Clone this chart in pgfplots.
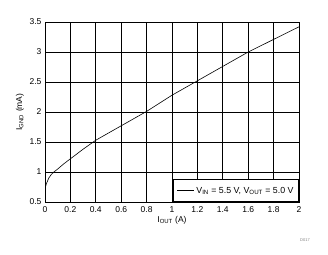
\documentclass[border=0pt]{standalone}
\usepackage{pgfplots}
\pgfplotsset{compat=1.18}
\usepackage{fontspec}
\setmainfont{Liberation Sans}
\begin{document}
\begin{tikzpicture}[x=1pt,y=1pt]
\path[use as bounding box] (-45,-52) rectangle (283,202);
\begin{axis}[
  at={(0,0)}, anchor=south west,
  scale only axis, width=254pt, height=180pt,
  xmin=0, xmax=2, ymin=0.5, ymax=3.5,
  xtick={0,0.2,...,2.01}, ytick={0.5,1,...,3.51},
  xticklabels={0,0.2,0.4,0.6,0.8,1,1.2,1.4,1.6,1.8,2},
  yticklabels={0.5,1,1.5,2,2.5,3,3.5},
  grid=major, major grid style={black, line width=0.9pt},
  axis line style={black, line width=0.9pt},
  major tick length=0pt,
  tick label style={font=\fontsize{8.5}{9}\selectfont},
  /pgf/number format/assume math mode=true,
  xticklabel style={yshift=-1pt},
  yticklabel style={xshift=0pt},
  xlabel={I\textsubscript{OUT} (A)},
  ylabel={I\textsubscript{GND} (mA)},
  label style={font=\fontsize{8.5}{9}\selectfont},
  xlabel style={yshift=3pt},
  ylabel style={yshift=-1pt},
  legend style={at={(rel axis cs:1,0)}, anchor=south east, draw=black, line width=0.9pt,
    font=\fontsize{8.8}{9}\selectfont, inner xsep=3pt, inner ysep=5pt, legend cell align=left},
  legend image code/.code={\draw[#1, line width=0.6pt] (0pt,0pt) -- (0.6cm,0pt);},
]
\addplot[black, line width=0.6pt] coordinates {
(0,0.72) (0.01,0.8) (0.02,0.85) (0.03,0.9) (0.05,0.96) (0.07,1.0) (0.1,1.05)
(0.15,1.14) (0.2,1.22) (0.3,1.38) (0.4,1.53) (0.5,1.65) (0.6,1.77) (0.8,2.01)
(1.0,2.28) (1.2,2.52) (1.4,2.76) (1.6,3.0) (1.8,3.21) (2.0,3.42)};
\addlegendentry{V\textsubscript{IN} = 5.5 V, V\textsubscript{OUT} = 5.0 V}
\end{axis}
\node[font=\fontsize{4}{5}\selectfont, text=gray] at (260,-38) {D017};
\end{tikzpicture}
\end{document}
